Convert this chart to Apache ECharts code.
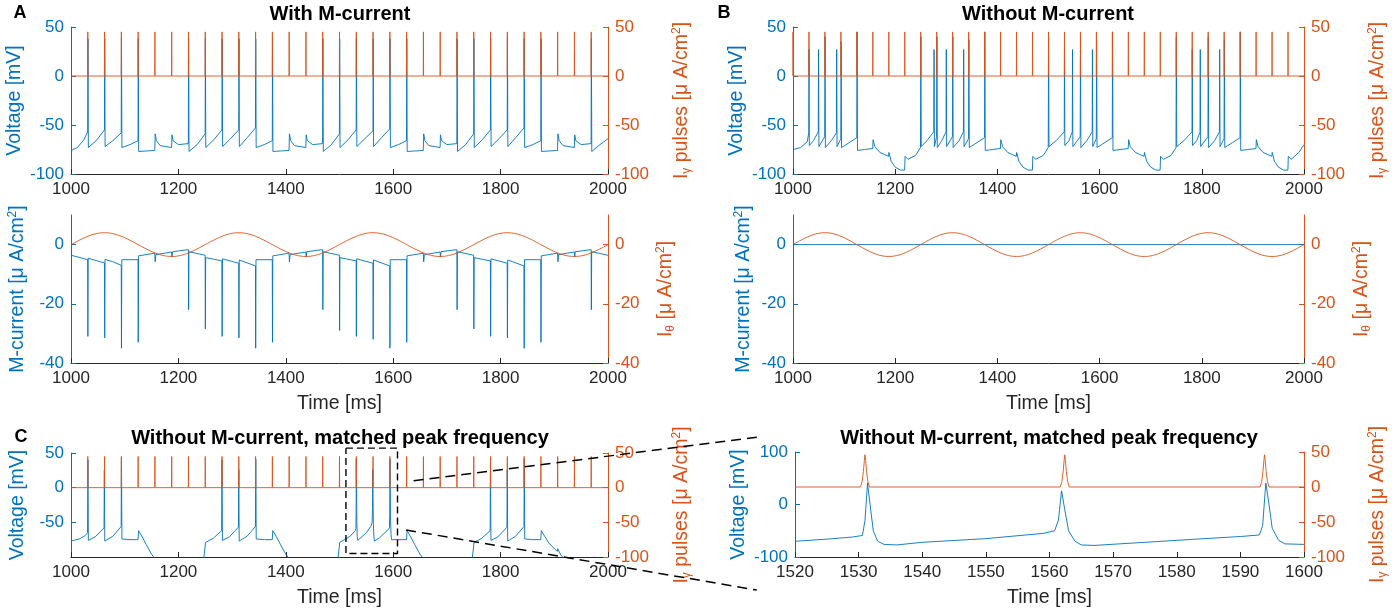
<!DOCTYPE html>
<html><head><meta charset="utf-8">
<script src="https://cdn.jsdelivr.net/npm/echarts@6/dist/echarts.min.js"></script>
<style>html,body{margin:0;padding:0;background:#fff}#c{width:1394px;height:614px}</style>
</head><body><div id="c"></div>
<script>
// ================= DATA =================
const xTicksMain = [1000, 1200, 1400, 1600, 1800, 2000];
const xTicksZoom = [1520, 1530, 1540, 1550, 1560, 1570, 1580, 1590, 1600];
const voltTicks = [-100, -50, 0, 50];
const voltTicksC = [-50, 0, 50];
const pulseTicks = [-100, -50, 0, 50];
const currTicks = [-40, -20, 0];
const voltTicksZoom = [-100, 0, 100];

// I_gamma pulse times [ms]
const pulseTimesA = [1031.25,1062.5,1093.75,1125,1156.25,1187.5,1218.75,1250,1281.25,1312.5,1343.75,1375,1406.25,1437.5,1468.75,1500,1531.25,1562.5,1593.75,1625,1656.25,1687.5,1718.75,1750,1781.25,1812.5,1843.75,1875,1906.25,1937.5,1968.75];
const pulseTimesB = [1000,1031.25,1062.5,1093.75,1125,1156.25,1187.5,1218.75,1250,1281.25,1312.5,1343.75,1375,1406.25,1437.5,1468.75,1500,1531.25,1562.5,1593.75,1625,1656.25,1687.5,1718.75,1750,1781.25,1812.5,1843.75,1875,1906.25,1937.5,1968.75];
const pulseTimesC = [1031.25,1062.5,1093.75,1125,1156.25,1187.5,1218.75,1250,1281.25,1312.5,1343.75,1375,1406.25,1437.5,1468.75,1500,1531.25,1562.5,1593.75,1625,1656.25,1687.5,1718.75,1750,1781.25,1812.5,1843.75,1875,1906.25,1937.5,1968.75];
const pulsePeak = 45;

// I_theta drive
const thetaT = [1000,1015.6,1031.3,1046.9,1062.5,1078.1,1093.8,1109.4,1125,1140.6,1156.3,1171.9,1187.5,1203.1,1218.8,1234.4,
1250,1265.6,1281.3,1296.9,1312.5,1328.1,1343.8,1359.4,1375,1390.6,1406.3,1421.9,1437.5,1453.1,1468.8,1484.4,
1500,1515.6,1531.3,1546.9,1562.5,1578.1,1593.8,1609.4,1625,1640.6,1656.3,1671.9,1687.5,1703.1,1718.8,1734.4,
1750,1765.6,1781.3,1796.9,1812.5,1828.1,1843.8,1859.4,1875,1890.6,1906.3,1921.9,1937.5,1953.1,1968.8,1984.4,2000];
const thetaV = [0,1.5,2.8,3.7,4,3.7,2.8,1.5,0,-1.5,-2.8,-3.7,-4,-3.7,-2.8,-1.5,
0,1.5,2.8,3.7,4,3.7,2.8,1.5,0,-1.5,-2.8,-3.7,-4,-3.7,-2.8,-1.5,
0,1.5,2.8,3.7,4,3.7,2.8,1.5,0,-1.5,-2.8,-3.7,-4,-3.7,-2.8,-1.5,
0,1.5,2.8,3.7,4,3.7,2.8,1.5,0,-1.5,-2.8,-3.7,-4,-3.7,-2.8,-1.5,0];

// Panel A: voltage with M-current [ms, mV]
const voltA = [[1000,-76],[1012,-73],[1024,-65],[1031,-57],[1031.6,38],[1032.3,-73],[1047,-66],[1062.3,-55],[1062.8,38],[1063.5,-72],[1078,-66],[1093.5,-58],[1094,38],[1094.8,-73],[1110,-70],[1124.8,-66],[1125.3,38],[1126,-77],[1140,-76.5],[1156,-76],[1156.8,-59],[1159,-66],[1166,-71],[1187.3,-73],[1188,-60],[1190,-66],[1200,-70],[1218.5,-69],[1219,38],[1219.8,-77],
[1235,-70],[1249.8,-59],[1250.3,38],[1251,-73],[1266,-65],[1281,-55],[1281.5,38],[1282.3,-72],[1297,-64],[1312.3,-55],[1312.8,38],[1313.5,-72],[1328,-63],[1343.5,-53],[1344,38],[1344.8,-73],[1360,-70],[1374.8,-66],[1375.3,38],[1376,-77],[1390,-76.5],[1406,-76],[1406.8,-59],[1409,-66],[1416,-71],[1437.3,-73],[1438,-60],[1440,-66],[1450,-70],[1468.5,-69],[1469,38],[1469.8,-77],
[1485,-70],[1499.8,-59],[1500.3,38],[1501,-73],[1516,-65],[1531,-55],[1531.5,38],[1532.3,-72],[1547,-64],[1562.3,-56],[1562.8,38],[1563.5,-72],[1578,-63],[1593.5,-54],[1594,38],[1594.8,-73],[1610,-70],[1624.8,-66],[1625.3,38],[1626,-77],[1640,-76.5],[1656,-76],[1656.8,-59],[1659,-66],[1666,-71],[1687.3,-73],[1688,-60],[1690,-66],[1700,-70],[1718.5,-69],[1719,38],[1719.8,-77],
[1735,-70],[1749.8,-59],[1750.3,38],[1751,-73],[1766,-65],[1781,-55],[1781.5,38],[1782.3,-72],[1797,-64],[1812.3,-55],[1812.8,38],[1813.5,-72],[1828,-63],[1843.5,-53],[1844,38],[1844.8,-73],[1860,-70],[1874.8,-66],[1875.3,38],[1876,-77],[1890,-76.5],[1906,-76],[1906.8,-59],[1909,-66],[1916,-71],[1937.3,-73],[1938,-60],[1940,-66],[1950,-70],[1968.5,-69],[1969,38],[1969.8,-77],[1985,-70],[2000,-64]];

// Panel A: M-current [ms, uA/cm2]
const mCurrA = [[1000,-3.6],[1015,-4.3],[1031,-5.1],[1031.4,-31],[1032,-4.6],[1047,-5.4],[1062.4,-6.2],[1062.8,-31.5],[1063.4,-5],[1078,-5.8],[1093.6,-7],[1094,-35],[1094.6,-5.1],[1124.8,-5.1],[1125.2,-33],[1125.8,-3.8],[1156,-2.9],[1156.8,-5.8],[1158,-3.4],[1187.3,-2.5],[1188,-4.2],[1189,-2.4],[1218.6,-1.7],[1219,-22],[1219.6,-2.4],
[1249.8,-3.6],[1250.2,-28.5],[1250.8,-4.4],[1281,-5.5],[1281.4,-31],[1282,-4.8],[1312.3,-6.3],[1312.7,-31.5],[1313.3,-5.2],[1343.5,-7.2],[1343.9,-35],[1344.5,-5.1],[1374.8,-5.1],[1375.2,-33],[1375.8,-3.8],[1406,-2.9],[1406.8,-5.8],[1408,-3.4],[1437.3,-2.5],[1438,-4.2],[1439,-2.4],[1468.6,-1.7],[1469,-22],[1469.6,-2.4],
[1499.8,-3.6],[1500.2,-29],[1500.8,-4.4],[1531,-5.5],[1531.4,-31],[1532,-4.8],[1562.3,-6.3],[1562.7,-32],[1563.3,-5.2],[1593.5,-7.2],[1593.9,-35],[1594.5,-5.1],[1624.8,-5.1],[1625.2,-33],[1625.8,-3.8],[1656,-2.9],[1656.8,-5.8],[1658,-3.4],[1687.3,-2.5],[1688,-4.2],[1689,-2.4],[1718.6,-1.7],[1719,-22],[1719.6,-2.4],
[1749.8,-3.6],[1750.2,-28.5],[1750.8,-4.4],[1781,-5.5],[1781.4,-31],[1782,-4.8],[1812.3,-6.3],[1812.7,-31.5],[1813.3,-5.2],[1843.5,-7.2],[1843.9,-35],[1844.5,-5.1],[1874.8,-5.1],[1875.2,-33],[1875.8,-3.8],[1906,-2.9],[1906.8,-5.8],[1908,-3.4],[1937.3,-2.5],[1938,-4.2],[1939,-2.4],[1968.6,-1.7],[1969,-22],[1969.6,-2.4],[2000,-3.6]];

// Panel B: voltage without M-current
const voltB = [[1000,-75],[1015,-73],[1028,-67],[1030.8,-58],[1031.3,27],[1032,-71],[1040,-66],[1049.5,-57],[1050,27],[1050.7,-72],[1062,-62],[1062.7,40],[1063.4,-73],[1075,-66],[1085,-58],[1085.5,27],[1086.2,-72],[1093.5,-64],[1094.2,35],[1095,-73],[1110,-68],[1124.8,-63],[1125.4,45],[1126.2,-76],[1140,-75],[1156,-74],[1156.8,-65],[1160,-72],[1170,-78],[1187,-82],[1187.8,-78],[1192,-87],[1200,-93],[1210,-96],[1218.5,-96],[1219.3,-82],[1225,-85],[1240,-81],[1249.5,-73],
[1250.2,40],[1251,-72],[1262,-66],[1275.5,-57],[1276,27],[1276.7,-72],[1281,-62],[1281.6,40],[1282.4,-73],[1290,-67],[1299.5,-57],[1300,27],[1300.7,-72],[1312,-62],[1312.7,40],[1313.4,-73],[1325,-66],[1333.5,-57],[1334,27],[1334.7,-72],[1343.5,-64],[1344.2,37],[1345,-73],[1360,-68],[1374.8,-63],[1375.4,45],[1376.2,-76],[1390,-75],[1406,-74],[1406.8,-65],[1410,-72],[1420,-78],[1437,-82],[1437.8,-78],[1442,-87],[1450,-93],[1460,-96],[1468.5,-96],[1469.3,-82],[1475,-85],[1490,-81],[1499.5,-73],
[1500.2,40],[1501,-72],[1515,-66],[1530.8,-57],[1531.3,27],[1532,-71],[1540,-66],[1546.5,-57],[1547,27],[1547.7,-72],[1562,-62],[1562.7,40],[1563.4,-73],[1575,-66],[1585.5,-57],[1586,27],[1586.7,-72],[1593.5,-64],[1594.2,37],[1595,-73],[1610,-68],[1624.8,-63],[1625.4,45],[1626.2,-76],[1640,-75],[1656,-74],[1656.8,-65],[1660,-72],[1670,-78],[1687,-82],[1687.8,-78],[1692,-87],[1700,-93],[1710,-96],[1718.5,-96],[1719.3,-82],[1725,-85],[1740,-81],[1749.5,-73],
[1750.2,40],[1751,-72],[1765,-66],[1780.8,-57],[1781.3,27],[1782,-71],[1790,-66],[1796.5,-57],[1797,27],[1797.7,-72],[1812,-62],[1812.7,40],[1813.4,-73],[1825,-66],[1834.5,-57],[1835,27],[1835.7,-72],[1843.5,-64],[1844.2,37],[1845,-73],[1860,-68],[1874.8,-63],[1875.4,45],[1876.2,-76],[1890,-75],[1906,-74],[1906.8,-65],[1910,-72],[1920,-78],[1937,-82],[1937.8,-78],[1942,-87],[1950,-93],[1960,-96],[1968.5,-96],[1969.3,-82],[1975,-85],[1990,-78],[2000,-70]];
const mCurrB = [[1000,0],[2000,0]];

// Panel C: voltage, matched peak frequency
const voltC = [[1000,-77],[1015,-74],[1025,-70],[1030.8,-65],[1031.5,40],[1032.3,-76],[1045,-71],[1061.5,-58],[1062.1,26],[1062.9,-77],[1078,-70],[1093.4,-56],[1094,41],[1094.8,-74],[1110,-75],[1124.8,-75],[1125.8,-62],[1132,-70],[1140,-82],[1150,-96],[1158,-104],[1200,-115],[1247,-104],[1250.5,-79],[1265,-73],[1280.5,-62],[1281.2,40],[1282,-76],[1295,-71],[1311.8,-57],[1312.4,26],[1313.2,-77],[1328,-70],[1343.5,-56],[1344.1,41],[1344.9,-74],[1360,-75],[1374.8,-75],[1375.8,-62],[1382,-70],[1390,-82],[1400,-96],[1408,-104],[1450,-115],[1497,-104],[1500.5,-79],[1520,-70],[1529,-62],[1530.6,-59],[1531,-30],[1531.4,41],[1531.8,0],[1532.3,-50],[1533,-70],[1534,-76],[1536,-77],[1540,-72],[1550,-65],[1559,-55],[1560.8,-50],[1561.4,-30],[1561.9,26],[1562.4,-10],[1563,-50],[1564,-70],[1565,-77],[1567,-78],[1575,-72],[1583,-66],[1590,-61],[1593,-58],[1593.5,-40],[1594,41],[1594.5,0],[1595,-45],[1596,-68],[1597,-75],[1600,-76],[1624.8,-75],[1625.8,-62],[1632,-70],[1640,-82],[1650,-96],[1658,-104],[1700,-115],[1747,-104],[1750.5,-79],[1765,-73],[1780.5,-62],[1781.2,40],[1782,-76],[1795,-71],[1811.8,-57],[1812.4,26],[1813.2,-77],[1828,-70],[1843.5,-56],[1844.1,41],[1844.9,-74],[1860,-75],[1874.8,-75],[1875.8,-62],[1882,-70],[1890,-80],[1905.5,-92],[1906.5,-88],[1912,-97],[1920,-104],[2000,-115]];

// Panel C zoom: voltage and pulses
const voltZoom = [[1520,-70],[1525,-66],[1529,-62],[1530.6,-59],[1531,-30],[1531.4,41],[1531.8,0],[1532.3,-50],[1533,-70],[1534,-76],[1536,-77],[1540,-72],[1550,-65],[1559,-55],[1560.8,-50],[1561.4,-30],[1561.9,26],[1562.4,-10],[1563,-50],[1564,-70],[1565,-77],[1567,-78],[1575,-72],[1583,-66],[1590,-61],[1593,-58],[1593.5,-40],[1594,41],[1594.5,0],[1595,-45],[1596,-68],[1597,-75],[1600,-76]];
const pulseZoom = [[1520,0],[1530.3,0],[1530.55,8],[1530.75,22],[1530.9,38],[1531,46],[1531.1,38],[1531.25,22],[1531.45,8],[1531.7,0],
[1561.7,0],[1561.95,8],[1562.15,22],[1562.3,38],[1562.4,46],[1562.5,38],[1562.65,22],[1562.85,8],[1563.1,0],
[1593.1,0],[1593.35,8],[1593.55,22],[1593.7,38],[1593.8,46],[1593.9,38],[1594.05,22],[1594.25,8],[1594.5,0],[1600,0]];
// zoom box (data coords of the dashed rectangle on panel C)
const zoomBox = [[1512,57],[1608,57],[1608,-95],[1512,-95],[1512,57]];

// ================= CHART =================
const BLUE = '#0072BD', ORANGE = '#D95319', DARK = '#262626';
const FONT = '"Liberation Sans", Arial, Helvetica, sans-serif';
const TICKFS = 17, NAMEFS = 19.5;
const chart = echarts.init(document.getElementById('c'), null, {renderer: 'canvas', width: 1394, height: 614});

const grids = [
  {left: 71, top: 27, width: 537, height: 147},   // A top
  {left: 71, top: 215, width: 537, height: 148},  // A bottom
  {left: 793, top: 27, width: 511, height: 147},  // B top
  {left: 793, top: 215, width: 511, height: 148}, // B bottom
  {left: 71, top: 453, width: 537, height: 104},  // C left
  {left: 795, top: 452, width: 509, height: 105}  // C right
].map(g => Object.assign({containLabel: false, outerBoundsMode: 'none'}, g));

const plainNum = v => String(v);

function xAx(gi, ticks, name) {
  return {
    type: 'value', gridIndex: gi, min: ticks[0], max: ticks[ticks.length - 1], interval: ticks[1] - ticks[0],
    axisLine: {show: true, onZero: false, lineStyle: {color: DARK, width: 1}},
    axisTick: {show: true, inside: true, length: 5, lineStyle: {color: DARK}},
    axisLabel: {color: DARK, fontSize: TICKFS, fontFamily: FONT, margin: 7, formatter: plainNum, hideOverlap: false},
    splitLine: {show: false},
    name: name || '', nameLocation: 'middle', nameGap: 31,
    nameTextStyle: {color: DARK, fontSize: NAMEFS, fontFamily: FONT}
  };
}
function richFor(c) {
  return {
    sub: {color: c, fontSize: 12, lineHeight: 12, verticalAlign: 'bottom', fontFamily: FONT},
    sup: {color: c, fontSize: 12, lineHeight: 12, verticalAlign: 'top', fontFamily: FONT}
  };
}
function yAx(gi, pos, min, max, ticks, name, color, gap) {
  return {
    type: 'value', gridIndex: gi, position: pos, min, max,
    axisLine: {show: true, onZero: false, lineStyle: {color, width: 1}},
    axisTick: {show: true, inside: true, length: 5, lineStyle: {color}, customValues: ticks},
    axisLabel: {color, fontSize: TICKFS, fontFamily: FONT, margin: 7, customValues: ticks, formatter: plainNum},
    splitLine: {show: false},
    name, nameLocation: 'middle', nameRotate: 90, nameGap: gap,
    nameTextStyle: {color, fontSize: NAMEFS, fontFamily: FONT, lineHeight: 22, rich: richFor(color)}
  };
}

const nmVolt = 'Voltage [mV]';
const nmPulse = 'I{sub|γ} pulses [μ A/cm{sup|2}]';
const nmMcur = 'M-current [μ A/cm{sup|2}]';
const nmTheta = 'I{sub|θ} [μ A/cm{sup|2}]';

const xAxes = [
  xAx(0, xTicksMain), xAx(1, xTicksMain, 'Time [ms]'),
  xAx(2, xTicksMain), xAx(3, xTicksMain, 'Time [ms]'),
  xAx(4, xTicksMain, 'Time [ms]'), xAx(5, xTicksZoom, 'Time [ms]')
];
const yAxes = [
  yAx(0, 'left', -100, 50, voltTicks, nmVolt, BLUE, 42),
  yAx(0, 'right', -100, 50, pulseTicks, nmPulse, ORANGE, 63),
  yAx(1, 'left', -40, 10, currTicks, nmMcur, BLUE, 42),
  yAx(1, 'right', -40, 10, currTicks, nmTheta, ORANGE, 47),
  yAx(2, 'left', -100, 50, voltTicks, nmVolt, BLUE, 42),
  yAx(2, 'right', -100, 50, pulseTicks, nmPulse, ORANGE, 63),
  yAx(3, 'left', -40, 10, currTicks, nmMcur, BLUE, 38),
  yAx(3, 'right', -40, 10, currTicks, nmTheta, ORANGE, 47),
  yAx(4, 'left', -100, 50, voltTicksC, nmVolt, BLUE, 42),
  yAx(4, 'right', -100, 50, pulseTicks, nmPulse, ORANGE, 63),
  yAx(5, 'left', -100, 100, voltTicksZoom, nmVolt, BLUE, 42),
  yAx(5, 'right', -100, 50, pulseTicks, nmPulse, ORANGE, 63)
];

function pulseSeries(times, peak) {
  const d = [[1000, 0]];
  times.forEach(t => { d.push([t - 0.3, 0], [t, peak], [t + 0.3, 0]); });
  d.push([2000, 0]);
  return d;
}
const thetaData = thetaT.map((t, i) => [t, thetaV[i]]);

function line(xi, yi, data, color, extra) {
  return Object.assign({
    type: 'line', xAxisIndex: xi, yAxisIndex: yi, data, showSymbol: false, symbol: 'none',
    lineStyle: {color, width: 1, opacity: 0.9}, animation: false, silent: true
  }, extra || {});
}

const series = [
  line(0, 0, voltA, BLUE), line(0, 1, pulseSeries(pulseTimesA, pulsePeak), ORANGE, {z: 3}),
  line(1, 2, mCurrA, BLUE), line(1, 3, thetaData, ORANGE, {smooth: 0.4, z: 3}),
  line(2, 4, voltB, BLUE), line(2, 5, pulseSeries(pulseTimesB, pulsePeak), ORANGE, {z: 3}),
  line(3, 6, mCurrB, BLUE), line(3, 7, thetaData, ORANGE, {smooth: 0.4, z: 3}),
  line(4, 8, voltC, BLUE), line(4, 9, pulseSeries(pulseTimesC, pulsePeak), ORANGE, {z: 3}),
  line(5, 10, voltZoom, BLUE),
  line(5, 11, pulseZoom, ORANGE, {z: 3}),
  line(4, 8, zoomBox, '#000', {clip: false, z: 5, lineStyle: {color: '#000', width: 1.4, type: [7, 4]}})
];

function txt(x, y, s, size) {
  return {type: 'text', x, y, silent: true, style: {text: s, fill: '#000', font: 'bold ' + size + 'px ' + FONT, textAlign: 'center', textVerticalAlign: 'middle'}};
}
const graphics = [
  txt(340, 14, 'With M-current', 20), txt(1048, 14, 'Without M-current', 20),
  txt(340, 438, 'Without M-current, matched peak frequency', 20),
  txt(1049, 438, 'Without M-current, matched peak frequency', 20),
  txt(20, 13, 'A', 18), txt(724, 13, 'B', 18), txt(21, 437, 'C', 18)
];

chart.setOption({
  backgroundColor: '#fff', animation: false,
  textStyle: {fontFamily: FONT},
  grid: grids, xAxis: xAxes, yAxis: yAxes, series, graphic: graphics
});

// dashed connector lines from the zoom box to the zoom panel
const p1 = chart.convertToPixel({xAxisIndex: 4, yAxisIndex: 8}, [1638, 10]);
const p2 = chart.convertToPixel({xAxisIndex: 5, yAxisIndex: 10}, [1514, 128]);
const p3 = chart.convertToPixel({xAxisIndex: 4, yAxisIndex: 8}, [1624, -61]);
const p4 = chart.convertToPixel({xAxisIndex: 5, yAxisIndex: 10}, [1514, -163]);
chart.setOption({graphic: graphics.concat([
  {type: 'line', silent: true, z: 100, shape: {x1: p1[0], y1: p1[1], x2: p2[0], y2: p2[1]}, style: {stroke: '#000', lineWidth: 1.5, lineDash: [10, 6]}},
  {type: 'line', silent: true, z: 100, shape: {x1: p3[0], y1: p3[1], x2: p4[0], y2: p4[1]}, style: {stroke: '#000', lineWidth: 1.5, lineDash: [10, 6]}}
])});
</script></body></html>
